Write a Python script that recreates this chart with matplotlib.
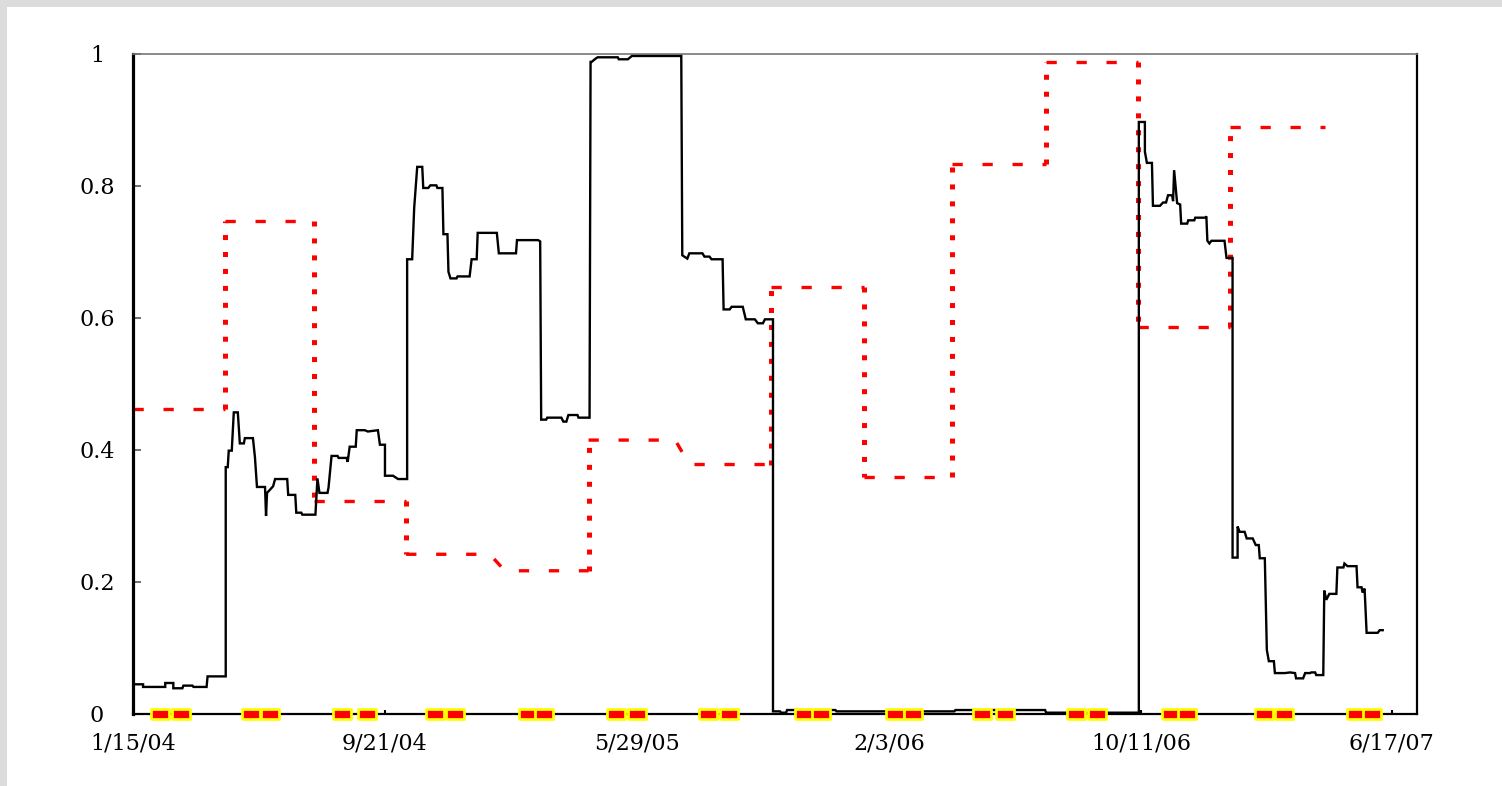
import numpy as np
import matplotlib
matplotlib.use("Agg")
import matplotlib.pyplot as plt
from matplotlib.patches import Rectangle

plt.rcParams["lines.scale_dashes"] = False

START = np.datetime64("2004-01-15")

# Ratio series (solid black): days since START, value
ratio_days = [
    0, 10, 10, 32, 32, 40, 40, 49, 50, 59, 60, 73, 74, 92, 92, 94, 95, 98, 100, 104,
    106, 110, 111, 119, 121, 123, 131, 132, 133, 139, 141, 153, 154, 161, 162, 167,
    168, 181, 183, 185, 193, 194, 197, 203, 204, 212, 213, 215, 221, 222, 230, 233,
    243, 245, 250, 250, 258, 260, 263, 272,
    272, 277, 279, 282, 287, 288, 293, 295, 301, 302, 307, 308, 312, 313, 315, 321,
    322, 334, 336, 337, 341, 342, 361, 363, 380, 381, 402, 404, 405, 410, 411, 425,
    427, 430, 432, 441, 442, 453,
    454, 455, 459, 461, 481, 482, 491, 495, 544, 545, 550, 552, 565, 567, 572, 574,
    585, 586, 592, 594, 605, 608, 617, 620, 625, 627, 635,
    635, 642, 643, 648, 649, 697, 698, 815, 816, 905, 906, 998,
    998, 1004, 1004, 1006, 1011, 1012, 1019, 1022, 1025, 1027, 1031, 1032, 1033, 1036,
    1039, 1040, 1046, 1047, 1053, 1054, 1064, 1065, 1066, 1068, 1070, 1083, 1085, 1091,
    1091, 1096, 1096, 1098, 1103, 1105, 1111, 1114, 1117, 1118, 1123, 1125, 1127, 1132,
    1133, 1143, 1148, 1153, 1154, 1161, 1163, 1168, 1169, 1173, 1174, 1181, 1182, 1184,
    1187, 1194, 1195, 1201, 1202, 1205, 1214, 1215, 1219, 1220, 1222, 1224, 1235, 1237,
    1240,
]
ratio_vals = [
    0.045, 0.045, 0.041, 0.041, 0.047, 0.047, 0.039, 0.039, 0.043, 0.043, 0.041, 0.041,
    0.057, 0.057, 0.374, 0.374, 0.399, 0.399, 0.457, 0.457,
    0.410, 0.410, 0.418, 0.418, 0.389, 0.344, 0.344, 0.300, 0.335, 0.345, 0.356, 0.356,
    0.332, 0.332, 0.305, 0.305,
    0.302, 0.302, 0.357, 0.335, 0.335, 0.343, 0.391, 0.391, 0.388, 0.388, 0.382, 0.405,
    0.405, 0.430, 0.430, 0.428,
    0.430, 0.408, 0.408, 0.361, 0.361, 0.359, 0.356, 0.356,
    0.689, 0.689, 0.767, 0.829, 0.829, 0.797, 0.797, 0.801, 0.801, 0.797, 0.797, 0.727,
    0.727, 0.670, 0.660, 0.660,
    0.663, 0.663, 0.689, 0.689, 0.689, 0.729, 0.729, 0.698, 0.698, 0.718, 0.718, 0.716,
    0.446, 0.446, 0.449, 0.449,
    0.443, 0.443, 0.453, 0.453, 0.449, 0.449,
    0.988, 0.988, 0.993, 0.995, 0.995, 0.992, 0.992, 0.997, 0.997, 0.695, 0.690, 0.698,
    0.698, 0.693, 0.693, 0.689,
    0.689, 0.613, 0.613, 0.617, 0.617, 0.598, 0.598, 0.592, 0.592, 0.598, 0.598,
    0.004, 0.004, 0.002, 0.002, 0.006, 0.006, 0.004, 0.004, 0.006, 0.006, 0.002, 0.002,
    0.897, 0.897, 0.852, 0.835, 0.835, 0.770, 0.770, 0.775, 0.775, 0.786, 0.786, 0.777,
    0.824, 0.774,
    0.772, 0.743, 0.743, 0.748, 0.748, 0.752, 0.752, 0.754, 0.717, 0.713, 0.717, 0.717,
    0.691, 0.691,
    0.237, 0.237, 0.284, 0.276, 0.276, 0.266, 0.266, 0.256, 0.256, 0.236, 0.236, 0.097,
    0.080, 0.080,
    0.062, 0.062, 0.063, 0.062, 0.054, 0.054, 0.062, 0.062, 0.063, 0.063, 0.059, 0.059,
    0.187, 0.173,
    0.182, 0.182, 0.222, 0.222, 0.228, 0.224, 0.224, 0.192, 0.192, 0.184, 0.190, 0.123,
    0.123, 0.127,
    0.127,
]

# Threshold series (red dotted): days since START, value
thresh_days = [0, 91, 91, 180, 180, 271, 271, 354, 369, 452, 452, 538, 552, 633, 633,
               725, 725, 813, 813, 906, 906, 997, 997, 1088, 1088, 1183]
thresh_vals = [0.462, 0.462, 0.747, 0.747, 0.323, 0.323, 0.242, 0.242, 0.217, 0.217,
               0.415, 0.415, 0.378, 0.378, 0.647, 0.647, 0.359, 0.359, 0.833, 0.833,
               0.988, 0.988, 0.586, 0.586, 0.889, 0.889]

# Event pairs along the baseline: days since START
event_a_days = [27, 117, 207, 300, 392, 479, 571, 666, 756, 842, 936, 1030, 1122, 1213]
event_b_days = [48, 136, 232, 319, 408, 500, 591, 683, 774, 865, 956, 1046, 1142, 1229]

tick_dates = ["2004-01-15", "2004-09-21", "2005-05-29", "2006-02-03", "2006-10-11", "2007-06-17"]
tick_labels = ["1/15/04", "9/21/04", "5/29/05", "2/3/06", "10/11/06", "6/17/07"]
y_ticks = [0, 0.2, 0.4, 0.6, 0.8, 1.0]
y_labels = ["0", "0.2", "0.4", "0.6", "0.8", "1"]


def to_dates(days):
    return START + np.array(days).astype("timedelta64[D]")


W, H = 1502, 786
fig = plt.figure(figsize=(W / 100, H / 100), dpi=100)
fig.patch.set_facecolor("white")
fig.patches.append(Rectangle((0, 1 - 7 / H), 1, 7 / H, transform=fig.transFigure,
                             facecolor="#dcdcdc", edgecolor="none", zorder=0))
fig.patches.append(Rectangle((0, 0), 7 / W, 1, transform=fig.transFigure,
                             facecolor="#dcdcdc", edgecolor="none", zorder=0))

ax = fig.add_axes([133 / W, 72 / H, 1284 / W, 660 / H])

# black ratio line
ax.plot(to_dates(ratio_days), ratio_vals, color="black", lw=1.7, zorder=3,
        solid_joinstyle="miter")


# red threshold line: vertical jumps dotted, level runs dashed
def runs(days, vals):
    out = []
    cur_kind, xs, ys = None, [days[0]], [vals[0]]
    for i in range(len(days) - 1):
        kind = "v" if days[i] == days[i + 1] else "h"
        if cur_kind is None or kind == cur_kind:
            xs.append(days[i + 1]); ys.append(vals[i + 1])
        else:
            out.append((cur_kind, xs, ys))
            xs, ys = [days[i], days[i + 1]], [vals[i], vals[i + 1]]
        cur_kind = kind
    out.append((cur_kind, xs, ys))
    return out


for kind, xs, ys in runs(thresh_days, thresh_vals):
    if kind == "v":
        ax.plot(to_dates(xs), ys, color="#ff0000", lw=3.6, dashes=(3.6, 8.6),
                dash_capstyle="butt", zorder=2)
    else:
        ax.plot(to_dates(xs), ys, color="#ff0000", lw=2.4, dashes=(7.4, 14.2),
                dash_capstyle="butt", zorder=2)

# event markers on the baseline
rect = [(-1, -0.52), (1, -0.52), (1, 0.52), (-1, 0.52), (-1, -0.52)]
for days in (event_a_days, event_b_days):
    ax.plot(to_dates(days), np.zeros(len(days)), ls="none", marker=rect, ms=13.5,
            mfc="#ff0000", mec="#ffff00", mew=2.0, clip_on=False, zorder=6)

ax.set_ylim(0, 1)
ax.set_xlim(START, START + np.timedelta64(1274, "D"))

ax.set_xticks(np.array(tick_dates, dtype="datetime64[D]"))
ax.set_xticklabels(tick_labels)
ax.set_yticks(y_ticks)
ax.set_yticklabels(y_labels)

for lbl in ax.get_xticklabels() + ax.get_yticklabels():
    lbl.set_fontfamily("DejaVu Serif")
    lbl.set_fontsize(16)
for lbl in ax.get_yticklabels():
    lbl.set_horizontalalignment("center")

ax.tick_params(axis="y", direction="in", length=6, width=1.2, color="#555555", pad=26)
ax.tick_params(axis="x", direction="in", length=3, width=1.5, color="black", pad=13)

ax.spines["left"].set_linewidth(2.3)
ax.spines["bottom"].set_linewidth(1.6)
ax.spines["right"].set_linewidth(1.6)
ax.spines["top"].set_linewidth(1.2)
ax.spines["top"].set_color("#777777")

fig.savefig("out.png", dpi=100)
